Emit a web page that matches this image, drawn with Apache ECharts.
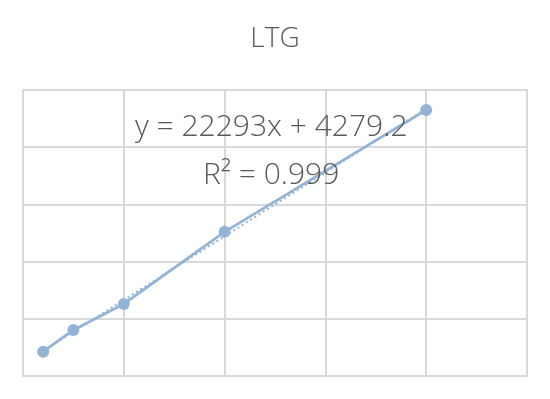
<!DOCTYPE html>
<html><head><meta charset="utf-8">
<script src="https://cdn.jsdelivr.net/npm/echarts@6/dist/echarts.min.js"></script>
<style>html,body{margin:0;padding:0;background:#fff}#c{width:550px;height:399px}</style>
</head><body><div id="c"></div>
<script>
const chartTitle = 'LTG';
const xValues = [0.2, 0.5, 1, 2, 4];
const yValues = [8500, 16100, 25200, 50400, 93000];
const slope = 22293;
const intercept = 4279.2;
const equationText = 'y = 22293x + 4279.2';
const r2Text = 'R² = 0.999';

const points = xValues.map((x, i) => [x, yValues[i]]);
const xMin = Math.min(...xValues), xMax = Math.max(...xValues);
const trend = [[xMin, slope * xMin + intercept], [xMax, slope * xMax + intercept]];

const chart = echarts.init(document.getElementById('c'));
const gridColor = '#d9d9d9';
chart.setOption({
  animation: false,
  backgroundColor: '#fff',
  title: {
    text: chartTitle, left: 'center', top: 20,
    textStyle: { fontFamily: 'Open Sans', fontWeight: 300, fontSize: 28, color: '#595959' }
  },
  grid: { left: 23, right: 23, top: 90, bottom: 23, show: true, borderColor: gridColor, borderWidth: 2 },
  xAxis: {
    type: 'value', min: 0, max: 5, interval: 1,
    axisLine: { show: false }, axisTick: { show: false }, axisLabel: { show: false },
    splitLine: { show: true, lineStyle: { color: gridColor, width: 2 } }
  },
  yAxis: {
    type: 'value', min: 0, max: 100000, interval: 20000,
    axisLine: { show: false }, axisTick: { show: false }, axisLabel: { show: false },
    splitLine: { show: true, lineStyle: { color: gridColor, width: 2 } }
  },
  series: [
    {
      type: 'line', data: trend, symbol: 'none', z: 2,
      lineStyle: { color: '#94B4D6', width: 2, type: [2, 3] }
    },
    {
      type: 'line', data: points, symbol: 'circle', symbolSize: 12, z: 3,
      lineStyle: { color: '#94B4D6', width: 2.75 },
      itemStyle: { color: '#94B4D6' }
    }
  ],
  graphic: [
    { type: 'text', left: 135, top: 112, z: 10,
      style: { text: equationText, fontFamily: 'Open Sans', fontWeight: 300, fontSize: 30, fill: '#595959' } },
    { type: 'text', left: 203, top: 160, z: 10,
      style: { text: r2Text, fontFamily: 'Open Sans', fontWeight: 300, fontSize: 30, fill: '#595959' } }
  ]
});
</script></body></html>
